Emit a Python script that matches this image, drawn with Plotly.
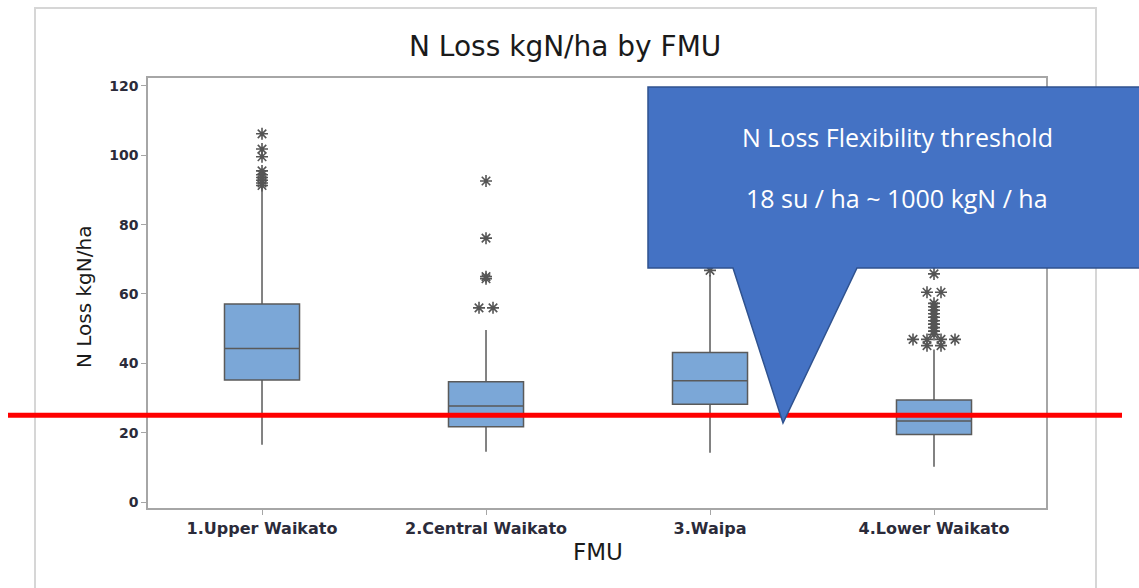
import plotly.graph_objects as go

# ---------------- data ----------------
fmu_labels = ["1.Upper Waikato", "2.Central Waikato", "3.Waipa", "4.Lower Waikato"]
fmu_pos = [1, 2, 3, 4]
lower_whisker = [16.5, 14.5, 14.2, 10.2]
q1_vals = [35.2, 21.7, 28.2, 19.5]
median_vals = [44.3, 27.7, 35.0, 23.4]
q3_vals = [57.1, 34.7, 43.1, 29.4]
upper_whisker = [90.5, 49.6, 65.5, 44.0]

# outliers: (value, number of tied points) per FMU
outliers_upper = [(106.2, 1), (101.8, 1), (99.6, 1), (95.5, 1), (94.4, 1), (93.6, 1),
                  (92.8, 1), (92.0, 1), (91.3, 1)]
outliers_central = [(92.6, 1), (76.1, 1), (65.0, 1), (64.4, 1), (56.0, 2)]
outliers_waipa = [(66.8, 1)]
outliers_lower = [(65.8, 1), (60.5, 2), (57.3, 1), (56.3, 1), (55.3, 1), (54.3, 1),
                  (53.3, 1), (52.3, 1), (51.3, 1), (50.3, 1), (49.3, 1), (48.3, 1),
                  (46.9, 4), (45.1, 2)]
all_outliers = [outliers_upper, outliers_central, outliers_waipa, outliers_lower]

y_ticks = [0, 20, 40, 60, 80, 100, 120]
threshold = 25
title_text = "N Loss kgN/ha by FMU"
callout_line1 = "N Loss Flexibility threshold"
callout_line2 = "18 su / ha ~ 1000 kgN / ha"

# ---------------- layout geometry ----------------
W, H = 1139, 588
ML, MR, MT, MB = 148, 93, 78, 80
PW, PH = W - ML - MR, H - MT - MB


def px(x):
    return (x - ML) / PW


def py(y):
    return (H - MB - y) / PH


fig = go.Figure()

fig.add_trace(go.Box(
    x=fmu_pos, q1=q1_vals, median=median_vals, q3=q3_vals,
    lowerfence=lower_whisker, upperfence=upper_whisker,
    boxpoints=False, width=0.335, whiskerwidth=0,
    fillcolor="#7BA7D7", line=dict(color="#5A5A5A", width=1.5),
    showlegend=False, hoverinfo="skip",
))

tie_step = 0.0625
ox, oy = [], []
for pos, outs in zip(fmu_pos, all_outliers):
    for val, n in outs:
        for i in range(n):
            ox.append(pos + (i - (n - 1) / 2) * tie_step)
            oy.append(val)

fig.add_trace(go.Scatter(
    x=ox, y=oy, mode="markers",
    marker=dict(symbol="asterisk-open", size=10, color="#555555",
                line=dict(color="#555555", width=1.6)),
    showlegend=False, hoverinfo="skip",
))

shapes = []
# outer light frame
shapes.append(dict(type="rect", xref="paper", yref="paper",
                   x0=px(35), x1=px(1096), y0=py(600), y1=py(8),
                   line=dict(color="#D6D6D6", width=2), layer="below"))
# red threshold line
shapes.append(dict(type="line", xref="paper", yref="y",
                   x0=px(8), x1=px(1122), y0=threshold, y1=threshold,
                   line=dict(color="#FF0000", width=5), layer="above"))
# callout
pts = [(648, 87), (1150, 87), (1150, 268), (857, 268), (783, 423), (733, 268), (648, 268)]
path = "M " + " L ".join(f"{px(a):.5f},{py(b):.5f}" for a, b in pts) + " Z"
shapes.append(dict(type="path", xref="paper", yref="paper", path=path,
                   fillcolor="#4472C4", line=dict(color="#2F528F", width=1.5),
                   layer="above"))

annotations = [
    dict(text=title_text, xref="paper", yref="paper", x=px(565), y=py(46),
         showarrow=False, xanchor="center", yanchor="middle",
         font=dict(family="DejaVu Sans", size=28, color="#1A1A1A")),
    dict(text="N Loss kgN/ha", xref="paper", yref="paper", x=px(84), y=py(297),
         showarrow=False, textangle=-90, xanchor="center", yanchor="middle",
         font=dict(family="DejaVu Sans", size=20, color="#1A1A1A")),
    dict(text="FMU", xref="paper", yref="paper", x=px(598), y=py(552),
         showarrow=False, xanchor="center", yanchor="middle",
         font=dict(family="DejaVu Sans", size=23, color="#1A1A1A")),
    dict(text=callout_line1, xref="paper", yref="paper", x=px(897), y=py(137),
         showarrow=False, xanchor="center", yanchor="middle",
         font=dict(family="Open Sans", size=25, color="white")),
    dict(text=callout_line2, xref="paper", yref="paper", x=px(897), y=py(198),
         showarrow=False, xanchor="center", yanchor="middle",
         font=dict(family="Open Sans", size=25, color="white")),
]

fig.update_layout(
    width=W, height=H,
    margin=dict(l=ML, r=MR, t=MT, b=MB, pad=0),
    paper_bgcolor="white", plot_bgcolor="white",
    shapes=shapes, annotations=annotations,
    xaxis=dict(range=[0.491, 4.5], tickvals=fmu_pos, ticktext=fmu_labels,
               showgrid=False, zeroline=False, showline=True, mirror=True,
               linecolor="#A6A6A6", linewidth=1.5, ticks="outside", ticklen=5,
               tickcolor="#A6A6A6",
               tickfont=dict(family="DejaVu Sans", size=16, color="#2B2B3A", weight="bold")),
    yaxis=dict(range=[-1.73, 122.3], tickvals=y_ticks,
               showgrid=False, zeroline=False, showline=True, mirror=True,
               linecolor="#A6A6A6", linewidth=1.5, ticks="outside", ticklen=5,
               tickcolor="#A6A6A6",
               tickfont=dict(family="DejaVu Sans", size=14, color="#2B2B3A", weight="bold")),
)

fig.write_html("out.html", config={"displayModeBar": False},
               post_script="document.body.style.margin='0px';")
